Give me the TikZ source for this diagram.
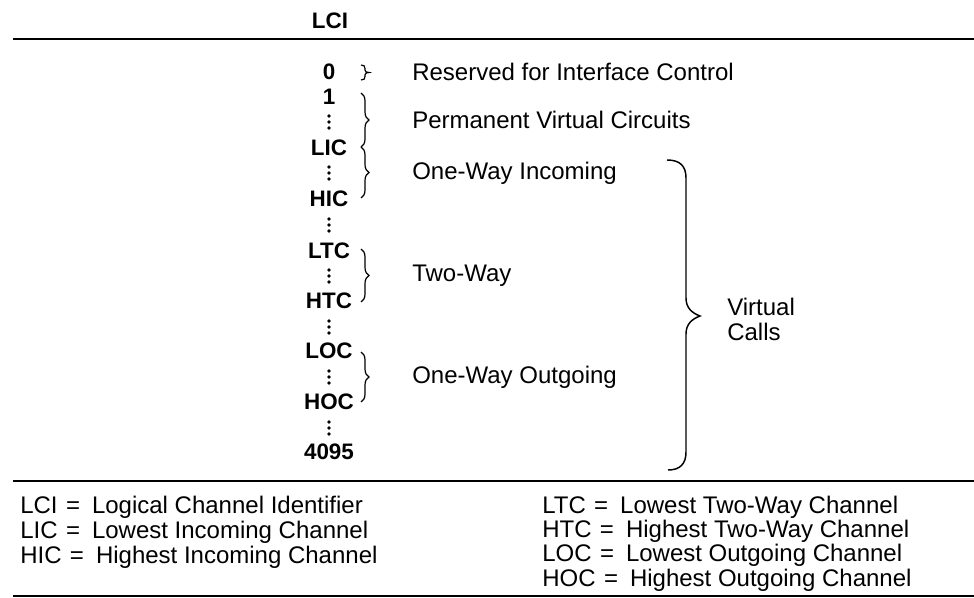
\documentclass[tikz,border=0pt]{standalone}
\usepackage{fontspec}
\setmainfont{Liberation Sans}
\usetikzlibrary{decorations.pathreplacing}
\begin{document}
\begin{tikzpicture}[x=0.75pt,y=-0.75pt,
  txt/.style={font=\fontsize{18}{20}\selectfont, inner sep=0pt},
  num/.style={font=\fontsize{16.8}{19}\selectfont\bfseries, inner sep=0pt},
  desc/.style={txt, anchor=west},
  foot/.style={txt, anchor=west},
  rulel/.style={line width=1.5pt},
  brc/.style={decorate, decoration={brace, amplitude=6pt}, line width=0.9pt},
  bigbrc/.style={line width=1.1pt}]
\useasboundingbox (0,0) rectangle (974,598);
\newcommand\vdts[2]{\fill (#1,#2-6) circle (1.35pt) (#1,#2) circle (1.35pt) (#1,#2+6) circle (1.35pt);}
\newcommand\eqs{\hspace{0.35em}=\hspace{0.5em}}
% heading and rules
\node[num] (lci) at (330,21) {LCI};
\coordinate (r1a) at (13,39);  \coordinate (r1b) at (974,39);
\coordinate (r2a) at (13,481); \coordinate (r2b) at (974,481);
\coordinate (r3a) at (13,596); \coordinate (r3b) at (974,596);
\draw[rulel] (r1a) -- (r1b);
\draw[rulel] (r2a) -- (r2b);
\draw[rulel] (r3a) -- (r3b);
% channel numbers
\node[num] (n0) at (329,72) {0};
\node[num] (n1) at (329,97) {1};
\vdts{329}{122}
\node[num] (lic) at (329,148) {LIC};
\vdts{329}{173}
\node[num] (hic) at (329,199) {HIC};
\vdts{329}{225}
\node[num] (ltc) at (329,251) {LTC};
\vdts{329}{276}
\node[num] (htc) at (329,301) {HTC};
\vdts{329}{327}
\node[num] (loc) at (329,351) {LOC};
\vdts{329}{377}
\node[num] (hoc) at (329,402) {HOC};
\vdts{329}{428}
\node[num] (n4095) at (329,452) {4095};
% small braces
\coordinate (b0a) at (361,65);  \coordinate (b0t) at (369,72.5); \coordinate (b0b) at (361,80);
\draw[line width=0.9pt] (b0a) .. controls (364,65) and (365,66) .. (365,68.5) -- (365,70)
  .. controls (365,71.8) and (366.5,72.5) .. (b0t)
  .. controls (366.5,72.5) and (365,73.2) .. (365,75) -- (365,76.5)
  .. controls (365,79) and (364,80) .. (b0b);
\coordinate (b1a) at (361,93);  \coordinate (b1b) at (361,147);
\coordinate (b2a) at (361,147); \coordinate (b2b) at (361,198);
\coordinate (b3a) at (361,249); \coordinate (b3b) at (361,302);
\coordinate (b4a) at (361,352); \coordinate (b4b) at (361,402);
\draw[brc] (b1a) -- (b1b);
\draw[brc] (b2a) -- (b2b);
\draw[brc] (b3a) -- (b3b);
\draw[brc] (b4a) -- (b4b);
% descriptions
\node[desc] (d0) at (412,72) {Reserved for Interface Control};
\node[desc] (d1) at (412,120) {Permanent Virtual Circuits};
\node[desc] (d2) at (412,173) {One-Way Incoming};
\node[desc] (d3) at (412,276) {Two-Way};
\node[desc] (d4) at (412,377) {One-Way Outgoing};
% virtual calls brace
\coordinate (vca) at (667,160); \coordinate (vct) at (700,316); \coordinate (vcb) at (668,470);
\draw[bigbrc] (vca) .. controls (680,160) and (686,166) .. (686,178) -- (686,298)
  .. controls (686,308) and (692,313) .. (vct)
  .. controls (692,319) and (686,324) .. (686,334) -- (686,452)
  .. controls (686,464) and (680,470) .. (vcb);
\node[desc] (vc1) at (727,307) {Virtual};
\node[desc] (vc2) at (727,332) {Calls};
% footer
\node[foot] (f1) at (20,507) {LCI\eqs Logical Channel Identifier};
\node[foot] (f2) at (20,532) {LIC\eqs Lowest Incoming Channel};
\node[foot] (f3) at (20,557) {HIC\eqs Highest Incoming Channel};
\node[foot] (f4) at (542,507) {LTC\eqs Lowest Two-Way Channel};
\node[foot] (f5) at (542,531) {HTC\eqs Highest Two-Way Channel};
\node[foot] (f6) at (542,555) {LOC\eqs Lowest Outgoing Channel};
\node[foot] (f7) at (542,580) {HOC\eqs Highest Outgoing Channel};
\end{tikzpicture}
\end{document}
